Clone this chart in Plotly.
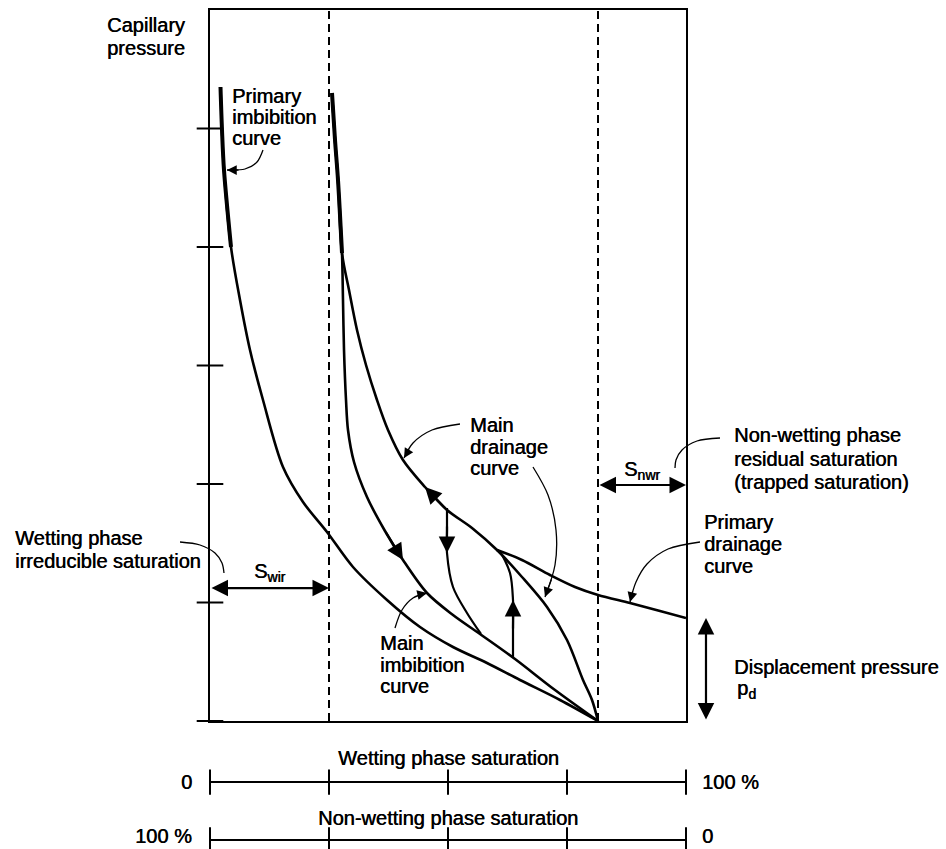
import plotly.graph_objects as go

# ---------------- frame layout (pixels) ----------------
W, H = 946, 849
BOX_L, BOX_R, BOX_T, BOX_B = 210, 686, 10, 721

# ---------------- schematic axes ----------------
x_range = [0, 4]            # saturation scale units (4 divisions)
y_range = [0, 6]            # capillary pressure units
sat_ticks = [0, 1, 2, 3, 4]
pc_ticks = [0, 1, 2, 3, 4, 5]

s_wir = 1.0                 # irreducible wetting saturation (dashed line)
s_nwr_line = 3.2605         # 1 - Snwr (dashed line)
p_d = 0.869                 # displacement pressure

# ---------------- curves (x = saturation units, y = Pc units) ----------------
prim_imb_x = [0.0882, 0.1008, 0.1176, 0.1765, 0.2521, 0.3361, 0.4454, 0.6134, 0.7815, 0.9832,
              1.2017, 1.4874, 1.7647, 2.0420, 2.3277, 2.6050, 2.9412, 3.2605]
prim_imb_y = [5.3502, 4.9873, 4.6498, 4.0000, 3.5527, 3.1308, 2.7089, 2.1435, 1.8481, 1.5949,
              1.2996, 1.0211, 0.7932, 0.6245, 0.4895, 0.3460, 0.1772, 0.0]

main_imb_x = [1.0252, 1.0504, 1.0756, 1.1092, 1.1176, 1.1261, 1.1429, 1.1597, 1.2101, 1.3193,
              1.4706, 1.6218, 1.8235, 2.0420, 2.2689, 2.5630, 2.8992, 3.2605]
main_imb_y = [5.2996, 4.9030, 4.5654, 3.9494, 3.5527, 3.1308, 2.7089, 2.4557, 2.1857, 1.8903,
              1.6034, 1.3586, 1.0802, 0.8945, 0.7342, 0.5232, 0.2616, 0.0]

main_drn_x = [3.2605, 3.2101, 3.1345, 3.0000, 2.8319, 2.6218, 2.4118, 2.2017, 1.9916, 1.8067,
              1.6218, 1.4958, 1.4034, 1.3109, 1.2353, 1.1681, 1.1092, 1.0756, 1.0504, 1.0252]
main_drn_y = [0.0, 0.1772, 0.3460, 0.6835, 0.9620, 1.2152, 1.4430, 1.6287, 1.7806, 1.9747,
              2.2025, 2.4557, 2.7089, 3.0042, 3.2996, 3.6371, 3.9494, 4.5654, 4.9030, 5.2996]

prim_drn_x = [4.0, 3.7815, 3.5294, 3.2605, 3.0672, 2.8571, 2.6218, 2.4118]
prim_drn_y = [0.8692, 0.9283, 0.9958, 1.0633, 1.1308, 1.2321, 1.3586, 1.4430]

scan_imb_x = [1.9916, 1.9916, 1.9916, 2.0420, 2.1597, 2.2773]
scan_imb_y = [1.7975, 1.6118, 1.4177, 1.1308, 0.9114, 0.7342]

scan_drn_x = [2.5462, 2.5462, 2.5462, 2.5210, 2.4370, 2.4118]
scan_drn_y = [0.5401, 0.7679, 1.0211, 1.2489, 1.4262, 1.4430]

# heavy (overdrawn) upper parts of the steep curves
heavy_prim_imb_n = 4
heavy_main_n = 4

# direction arrows on curves: (tail, head)
curve_arrows = [
    ((1.9916, 1.7806), (1.8067, 1.9747)),   # main drainage, upward
    ((1.4706, 1.6034), (1.6218, 1.3586)),   # main imbibition, downward
    ((1.9916, 1.6540), (1.9916, 1.4177)),   # scanning imbibition
    ((2.5462, 0.7679), (2.5462, 1.0211)),   # scanning drainage
]

# leader lines for labels
lead_prim_imb_x = [0.4454, 0.3950, 0.2941, 0.1429]
lead_prim_imb_y = [4.8186, 4.7173, 4.6582, 4.6498]
lead_drn1_x = [2.1008, 1.8655, 1.7059, 1.6303]
lead_drn1_y = [2.5063, 2.4557, 2.3460, 2.2194]
lead_drn2_x = [2.7143, 2.8403, 2.9076, 2.8992, 2.8151]
lead_drn2_y = [2.1435, 1.9072, 1.6118, 1.3165, 1.0464]
lead_imb_x = [1.5546, 1.6134, 1.7059, 1.8235]
lead_imb_y = [0.7848, 0.9367, 1.0380, 1.0802]
lead_nw_x = [4.2857, 4.0924, 3.9664, 3.9160, 3.9076]
lead_nw_y = [2.3882, 2.3629, 2.2869, 2.2025, 2.1350]
lead_pd_x = [4.1176, 3.8487, 3.6723, 3.5798, 3.5294]
lead_pd_y = [1.5105, 1.4515, 1.3249, 1.1730, 1.0042]
lead_wp_x = [-0.2521, -0.0840, 0.0420, 0.1008, 0.1176]
lead_wp_y = [1.5105, 1.4852, 1.4177, 1.3333, 1.2489]

leader_heads = [   # (tail, head) for leader arrowheads
    ((0.2521, 4.6498), (0.1429, 4.6498)),
    ((1.6807, 2.3038), (1.6303, 2.2194)),
    ((2.8739, 1.2068), (2.8151, 1.0464)),
    ((1.7479, 1.0633), (1.8235, 1.0802)),
    ((3.5546, 1.1055), (3.5294, 1.0042)),
]

swir_arrow_y = 1.122
snwr_arrow_y = 1.9916
pd_arrow_x = 4.168

# bottom saturation scales
row_wet_y = -0.515
row_nonwet_y = -1.004
row_nonwet_label_y = -0.972
wet_labels = ["0", "100 %"]
nonwet_labels = ["100 %", "0"]

# ---------------- derived overlay ranges ----------------
ux = (BOX_R - BOX_L) / (x_range[1] - x_range[0])
uy = (BOX_B - BOX_T) / (y_range[1] - y_range[0])
x2_range = [x_range[0] - BOX_L / ux, x_range[0] + (W - BOX_L) / ux]
y2_range = [y_range[0] - (H - BOX_B) / uy, y_range[0] + BOX_B / uy]

BLACK = "black"
FONT = dict(family="Liberation Sans, Arial, sans-serif", size=20, color=BLACK,
            shadow="0.5px 0 0 black")

fig = go.Figure()

def curve(x, y, width=2.5, axes=("x", "y"), dash=None, spline=True):
    fig.add_trace(go.Scatter(
        x=x, y=y, mode="lines", xaxis=axes[0], yaxis=axes[1],
        line=dict(color=BLACK, width=width, dash=dash,
                  shape="spline" if spline else "linear", smoothing=0.9),
        hoverinfo="skip", showlegend=False))

# dashed saturation limits
curve([s_wir, s_wir], y_range, width=2, dash="8px,5px", spline=False)
curve([s_nwr_line, s_nwr_line], y_range, width=2, dash="8px,5px", spline=False)

# main curves
curve(prim_imb_x, prim_imb_y, width=2.6)
curve(main_imb_x, main_imb_y, width=2.6)
curve(main_drn_x, main_drn_y, width=2.6)
curve(prim_drn_x, prim_drn_y, width=2.6)
curve(scan_imb_x, scan_imb_y, width=2.2)
curve(scan_drn_x, scan_drn_y, width=2.2)
curve(prim_imb_x[:heavy_prim_imb_n], prim_imb_y[:heavy_prim_imb_n], width=4)
curve(main_imb_x[:heavy_main_n], main_imb_y[:heavy_main_n], width=4)

# leader lines (overlay, may go outside the frame)
ov = ("x2", "y2")
for lx, ly in [(lead_prim_imb_x, lead_prim_imb_y), (lead_drn1_x, lead_drn1_y),
               (lead_drn2_x, lead_drn2_y), (lead_imb_x, lead_imb_y),
               (lead_nw_x, lead_nw_y), (lead_pd_x, lead_pd_y), (lead_wp_x, lead_wp_y)]:
    curve(lx, ly, width=1.3, axes=ov)

# cross ticks on pressure axis
fig.add_trace(go.Scatter(
    x=[x_range[0]] * len(pc_ticks), y=pc_ticks, mode="markers", xaxis="x2", yaxis="y2",
    marker=dict(symbol="line-ew", size=19, line=dict(color=BLACK, width=2)),
    hoverinfo="skip", showlegend=False))

# bottom saturation scales
for ry in (row_wet_y, row_nonwet_y):
    curve([x_range[0], x_range[1]], [ry, ry], width=2, axes=ov, spline=False)
    fig.add_trace(go.Scatter(
        x=sat_ticks, y=[ry] * len(sat_ticks), mode="markers", xaxis="x2", yaxis="y2",
        marker=dict(symbol="line-ns", size=18, line=dict(color=BLACK, width=2)),
        hoverinfo="skip", showlegend=False))

ann = []

def arrow(tail, head, width=2.2, size=1.3, both=False):
    ann.append(dict(x=head[0], y=head[1], ax=tail[0], ay=tail[1],
                    xref="x2", yref="y2", axref="x2", ayref="y2", text="",
                    showarrow=True, arrowhead=2, arrowsize=size, arrowwidth=width,
                    arrowcolor=BLACK, standoff=0, startstandoff=0,
                    arrowside="end+start" if both else "end",
                    startarrowhead=2, startarrowsize=size))

for t, h in curve_arrows:
    arrow(t, h, width=2.2, size=1.5)
for t, h in leader_heads:
    arrow(t, h, width=1.3, size=1.5)

arrow((x_range[0], swir_arrow_y), (s_wir, swir_arrow_y), width=2.2, size=1.5, both=True)
arrow((s_nwr_line, snwr_arrow_y), (x_range[1], snwr_arrow_y), width=2.2, size=1.5, both=True)
arrow((pd_arrow_x, 0.0), (pd_arrow_x, p_d), width=2.2, size=1.5, both=True)

def text(s, x, y, xanchor="left"):
    ann.append(dict(text=s, x=x, y=y, xref="x2", yref="y2", xanchor=xanchor,
                    yanchor="middle", showarrow=False, font=FONT))

def block(lines, x, ys, xanchor="left"):
    for s, yy in zip(lines, ys):
        text(s, x, yy, xanchor)

block(["Capillary", "pressure"], -0.193, [5.873, 5.679], "right")
block(["Primary", "imbibition", "curve"], 0.168, [5.274, 5.097, 4.920])
block(["Main", "drainage", "curve"], 2.168, [2.498, 2.312, 2.135])
block(["Non-wetting phase", "residual saturation", "(trapped saturation)"], 4.387, [2.414, 2.211, 2.017])
block(["Primary", "drainage", "curve"], 4.134, [1.679, 1.494, 1.308])
block(["Wetting phase", "irreducible saturation"], -1.655, [1.544, 1.350])
block(["Main", "imbibition", "curve"], 1.412, [0.658, 0.473, 0.295])
text("S<sub>wir</sub>", 0.504, 1.249, "center")
text("S<sub>nwr</sub>", 3.630, 2.118, "center")
text("Displacement pressure", 4.387, 0.456)
text("p<sub>d</sub>", 4.412, 0.262)
text("Wetting phase saturation", 2.0, -0.312, "center")
text("Non-wetting phase saturation", 2.0, -0.819, "center")
text(wet_labels[0], -0.134, row_wet_y, "right")
text(wet_labels[1], 4.118, row_wet_y, "left")
text(nonwet_labels[0], -0.134, row_nonwet_label_y, "right")
text(nonwet_labels[1], 4.118, row_nonwet_label_y, "left")

axis_common = dict(showgrid=False, zeroline=False, ticks="", showticklabels=False, fixedrange=True)
fig.update_layout(
    width=W, height=H, margin=dict(l=0, r=0, t=0, b=0),
    paper_bgcolor="white", plot_bgcolor="rgba(0,0,0,0)",
    showlegend=False, annotations=ann,
    xaxis=dict(domain=[BOX_L / W, BOX_R / W], range=x_range, showline=True, mirror=True,
               linecolor=BLACK, linewidth=2, anchor="y", **axis_common),
    yaxis=dict(domain=[(H - BOX_B) / H, (H - BOX_T) / H], range=y_range, showline=True, mirror=True,
               linecolor=BLACK, linewidth=2, anchor="x", **axis_common),
    xaxis2=dict(domain=[0, 1], range=x2_range, visible=False, anchor="y2", **axis_common),
    yaxis2=dict(domain=[0, 1], range=y2_range, visible=False, anchor="x2", **axis_common),
)

fig.write_html("out.html", config={"displayModeBar": False},
               post_script="document.body.style.margin='0';")
